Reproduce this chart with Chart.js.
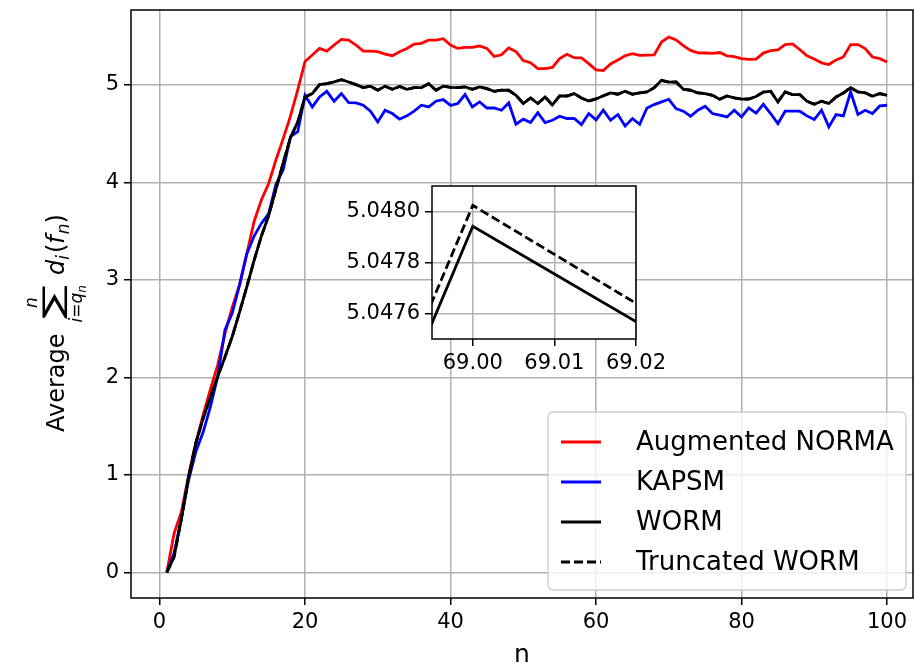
<!DOCTYPE html>
<html>
<head>
<meta charset="utf-8">
<script src="https://cdn.jsdelivr.net/npm/chart.js@4.4.0/dist/chart.umd.min.js"></script>
<style>
html, body { margin: 0; padding: 0; background: #fff; overflow: hidden; }
#wrap { position: relative; width: 914px; height: 668px; }
#main { position: absolute; left: 0; top: 0; }
#inset { position: absolute; left: 330px; top: 176px; }
</style>
</head>
<body>
<div id="wrap">
  <canvas id="main" width="914" height="668"></canvas>
  <canvas id="inset" width="340" height="200"></canvas>
</div>
<script>
// iterations n = 1..100
const steps = [
  1,2,3,4,5,6,7,8,9,10,11,12,13,14,15,16,17,18,19,20,
  21,22,23,24,25,26,27,28,29,30,31,32,33,34,35,36,37,38,39,40,
  41,42,43,44,45,46,47,48,49,50,51,52,53,54,55,56,57,58,59,60,
  61,62,63,64,65,66,67,68,69,70,71,72,73,74,75,76,77,78,79,80,
  81,82,83,84,85,86,87,88,89,90,91,92,93,94,95,96,97,98,99,100
];

const augNorma = [
  0, 0.40, 0.62, 1.00, 1.33, 1.62, 1.88, 2.13, 2.45, 2.72,
  2.95, 3.27, 3.60, 3.82, 3.99, 4.23, 4.45, 4.68, 4.95, 5.24,
  5.307, 5.375, 5.348, 5.41, 5.468, 5.461, 5.41, 5.348, 5.348, 5.341,
  5.317, 5.30, 5.341, 5.375, 5.42, 5.427, 5.461, 5.461, 5.475, 5.41,
  5.375, 5.386, 5.386, 5.40, 5.375, 5.292, 5.31, 5.38, 5.343, 5.25,
  5.229, 5.168, 5.168, 5.18, 5.27, 5.315, 5.28, 5.277, 5.219, 5.155,
  5.148, 5.215, 5.257, 5.30, 5.321, 5.304, 5.306, 5.308, 5.441, 5.492,
  5.462, 5.403, 5.355, 5.33, 5.328, 5.324, 5.333, 5.299, 5.29, 5.271,
  5.262, 5.265, 5.327, 5.352, 5.36, 5.415, 5.422, 5.364, 5.30, 5.267,
  5.227, 5.21, 5.257, 5.287, 5.414, 5.414, 5.373, 5.287, 5.27, 5.236
];

const kapsm = [
  0, 0.20, 0.55, 0.95, 1.24, 1.44, 1.70, 2.01, 2.49, 2.66,
  2.95, 3.27, 3.45, 3.58, 3.68, 3.98, 4.13, 4.47, 4.52, 4.894,
  4.775, 4.877, 4.935, 4.833, 4.912, 4.82, 4.816, 4.792, 4.731, 4.621,
  4.741, 4.707, 4.649, 4.683, 4.731, 4.792, 4.775, 4.833, 4.85, 4.79,
  4.81, 4.902, 4.775, 4.826, 4.764, 4.764, 4.741, 4.816, 4.597, 4.649,
  4.615, 4.717, 4.615, 4.638, 4.679, 4.656, 4.656, 4.594, 4.707, 4.642,
  4.741, 4.638, 4.697, 4.58, 4.656, 4.597, 4.764, 4.799, 4.826, 4.853,
  4.758, 4.731, 4.679, 4.741, 4.782, 4.707, 4.69, 4.672, 4.741, 4.672,
  4.764, 4.712, 4.802, 4.707, 4.604, 4.731, 4.731, 4.731, 4.683, 4.645,
  4.741, 4.57, 4.697, 4.683, 4.928, 4.697, 4.741, 4.707, 4.785, 4.792
];

const worm = [
  0, 0.16, 0.55, 0.98, 1.33, 1.58, 1.80, 2.01, 2.21, 2.42,
  2.67, 2.93, 3.20, 3.45, 3.66, 3.93, 4.20, 4.46, 4.62, 4.877,
  4.912, 5.004, 5.014, 5.031, 5.055, 5.031, 5.004, 4.973, 4.987, 4.946,
  4.987, 4.956, 4.984, 4.956, 4.973, 4.973, 5.014, 4.946, 4.987, 4.975,
  4.973, 4.98, 4.956, 4.98, 4.963, 4.935, 4.946, 4.946, 4.894, 4.81,
  4.867, 4.81, 4.877, 4.795, 4.887, 4.887, 4.912, 4.867, 4.836, 4.857,
  4.89, 4.918, 4.905, 4.935, 4.905, 4.918, 4.928, 4.971944, 5.047944, 5.029244,
  5.031, 4.956, 4.946, 4.918, 4.912, 4.894, 4.853, 4.887, 4.867, 4.855,
  4.856, 4.882, 4.928, 4.935, 4.826, 4.928, 4.902, 4.902, 4.833, 4.802,
  4.833, 4.81, 4.877, 4.918, 4.973, 4.928, 4.92, 4.884, 4.912, 4.894
];

const truncWorm = [
  0, 0.16, 0.55, 0.98, 1.33, 1.58, 1.80, 2.01, 2.21, 2.42,
  2.67, 2.93, 3.20, 3.45, 3.66, 3.93, 4.20, 4.46, 4.62, 4.877,
  4.912, 5.004, 5.014, 5.031, 5.055, 5.031, 5.004, 4.973, 4.987, 4.946,
  4.987, 4.956, 4.984, 4.956, 4.973, 4.973, 5.014, 4.946, 4.987, 4.975,
  4.973, 4.98, 4.956, 4.98, 4.963, 4.935, 4.946, 4.946, 4.894, 4.81,
  4.867, 4.81, 4.877, 4.795, 4.887, 4.887, 4.912, 4.867, 4.836, 4.857,
  4.89, 4.918, 4.905, 4.935, 4.905, 4.918, 4.928, 4.972426, 5.048026, 5.028826,
  5.031, 4.956, 4.946, 4.918, 4.912, 4.894, 4.853, 4.887, 4.867, 4.855,
  4.856, 4.882, 4.928, 4.935, 4.826, 4.928, 4.902, 4.902, 4.833, 4.802,
  4.833, 4.81, 4.877, 4.918, 4.973, 4.928, 4.92, 4.884, 4.912, 4.894
];

const seriesNames = ['Augmented NORMA', 'KAPSM', 'WORM', 'Truncated WORM'];

const xTicks = [0, 20, 40, 60, 80, 100];
const yTicks = [0, 1, 2, 3, 4, 5];
const insetXTicks = [69.00, 69.01, 69.02];
const insetYTicks = [5.0476, 5.0478, 5.0480];

Chart.defaults.font.family = '"DejaVu Sans", sans-serif';
Chart.defaults.color = '#000';

const GRID = '#b0b0b0';

// white face + black frame round the plot area
const framePlugin = {
  id: 'frame',
  beforeDraw(chart) {
    const a = chart.chartArea, ctx = chart.ctx;
    ctx.save();
    ctx.fillStyle = '#fff';
    ctx.fillRect(a.left, a.top, a.right - a.left, a.bottom - a.top);
    ctx.restore();
  },
  afterDatasetsDraw(chart) {
    const a = chart.chartArea, ctx = chart.ctx;
    ctx.save();
    ctx.strokeStyle = '#000';
    ctx.lineWidth = 1.5;
    ctx.strokeRect(a.left, a.top, a.right - a.left, a.bottom - a.top);
    ctx.restore();
  }
};

// legend box in the lower right corner
const boxLegend = {
  id: 'boxLegend',
  afterDraw(chart) {
    const a = chart.chartArea, ctx = chart.ctx;
    const w = 358, h = 178;
    const x0 = a.right - 7 - w, y0 = a.bottom - 8 - h;
    ctx.save();
    ctx.beginPath();
    ctx.roundRect(x0, y0, w, h, 5);
    ctx.fillStyle = 'rgba(255,255,255,0.8)';
    ctx.fill();
    ctx.strokeStyle = '#cccccc';
    ctx.lineWidth = 1.3;
    ctx.stroke();
    ctx.font = '26px "DejaVu Sans"';
    ctx.textBaseline = 'middle';
    chart.data.datasets.forEach((ds, i) => {
      const y = y0 + 30 + i * 40;
      ctx.beginPath();
      ctx.setLineDash(ds.borderDash || []);
      ctx.strokeStyle = ds.borderColor;
      ctx.lineWidth = ds.borderWidth;
      ctx.moveTo(x0 + 13, y);
      ctx.lineTo(x0 + 53, y);
      ctx.stroke();
      ctx.setLineDash([]);
      ctx.fillStyle = '#000';
      ctx.fillText(ds.label, x0 + 88, y + 1);
    });
    ctx.restore();
  }
};

// y axis title with the sum written out
const sumLabel = {
  id: 'sumLabel',
  afterDraw(chart) {
    const ctx = chart.ctx;
    const cy = (chart.chartArea.top + chart.chartArea.bottom) / 2;
    ctx.save();
    ctx.translate(64, cy + 128);
    ctx.rotate(-Math.PI / 2);
    ctx.fillStyle = '#000';
    ctx.textBaseline = 'alphabetic';
    ctx.font = '24px "DejaVu Sans"';
    ctx.fillText('Average', 0, 0);
    // big sum sign fitted to its box
    const sx0 = 113, sw = 33, sTop = -22, sBot = 3;
    ctx.font = '100px "DejaVu Sans"';
    const m = ctx.measureText('\u2211');
    const bw = m.actualBoundingBoxLeft + m.actualBoundingBoxRight;
    const bh = m.actualBoundingBoxAscent + m.actualBoundingBoxDescent;
    const kx = sw / bw, ky = (sBot - sTop) / bh;
    ctx.save();
    ctx.translate(sx0 + m.actualBoundingBoxLeft * kx, sBot - m.actualBoundingBoxDescent * ky);
    ctx.scale(kx, ky);
    ctx.fillText('\u2211', 0, 0);
    ctx.restore();
    const sc = sx0 + sw / 2;
    // upper limit
    ctx.font = 'italic 17px "DejaVu Sans"';
    ctx.textAlign = 'center';
    ctx.fillText('n', sc, -27);
    // lower limit i = q_n
    ctx.textAlign = 'left';
    let u = sc - 20;
    const put = (t, f, dy) => { ctx.font = f; ctx.fillText(t, u, dy); u += ctx.measureText(t).width; };
    put('i', 'italic 17px "DejaVu Sans"', 18);
    put('=', '17px "DejaVu Sans"', 18);
    put('q', 'italic 17px "DejaVu Sans"', 18);
    put('n', 'italic 12px "DejaVu Sans"', 22);
    // d_i(f_n)
    u = 157;
    put('d', 'italic 24px "DejaVu Sans"', 0);
    put('i', 'italic 17px "DejaVu Sans"', 5);
    u += 2;
    put('(', '24px "DejaVu Sans"', 0);
    put('f', 'italic 24px "DejaVu Sans"', 0);
    u += 1;
    put('n', 'italic 17px "DejaVu Sans"', 5);
    put(')', '24px "DejaVu Sans"', 0);
    ctx.restore();
  }
};

const seriesStyle = [
  { data: augNorma, color: '#ff0000', dash: [], order: 4 },
  { data: kapsm, color: '#0000ff', dash: [], order: 3 },
  { data: worm, color: '#000000', dash: [], order: 2 },
  { data: truncWorm, color: '#000000', dash: [9, 4], order: 1 }
];

const mainSets = seriesStyle.map((s, i) => ({
  label: seriesNames[i],
  data: s.data,
  borderColor: s.color,
  backgroundColor: s.color,
  borderDash: s.dash,
  borderWidth: 2.8,
  pointRadius: 0,
  tension: 0,
  order: s.order
}));

// drop the label overhang padding so the plot area sits where the layout says
const noPad = s => { s.paddingTop = 0; s.paddingBottom = 0; s.paddingLeft = 0; s.paddingRight = 0; };

const axisCommon = (ticks, fmt) => ({
  type: 'linear',
  afterBuildTicks: s => { s.ticks = ticks.map(v => ({ value: v })); },
  grid: { color: GRID, lineWidth: 1.5, tickColor: '#000', tickLength: 7, tickWidth: 1.5 },
  border: { display: false },
  ticks: { font: { size: 21 }, color: '#000', padding: 5, maxRotation: 0, callback: fmt, autoSkip: false }
});

new Chart(document.getElementById('main'), {
  type: 'line',
  data: { labels: steps, datasets: mainSets },
  options: {
    responsive: false,
    animation: false,
    layout: { padding: { left: 0, right: 1, top: 10, bottom: 0 } },
    plugins: { legend: { display: false }, tooltip: { enabled: false } },
    scales: {
      x: Object.assign(axisCommon(xTicks, v => String(v)), {
        min: -3.92, max: 103.57,
        afterFit: s => { s.height = 70; noPad(s); },
        title: { display: true, text: 'n', font: { size: 25, lineHeight: 1 }, color: '#000', padding: { top: 0, bottom: 0 } }
      }),
      y: Object.assign(axisCommon(yTicks, v => String(v)), {
        min: -0.262, max: 5.769,
        afterFit: s => { s.width = 131; noPad(s); }
      })
    }
  },
  plugins: [framePlugin, sumLabel, boxLegend]
});

// zoomed inset around n = 69
new Chart(document.getElementById('inset'), {
  type: 'line',
  data: {
    labels: steps,
    datasets: [2, 3].map(i => ({
      label: seriesNames[i],
      data: seriesStyle[i].data,
      borderColor: '#000',
      borderDash: seriesStyle[i].dash,
      borderWidth: 2.8,
      pointRadius: 0,
      tension: 0,
      order: seriesStyle[i].order
    }))
  },
  options: {
    responsive: false,
    animation: false,
    layout: { padding: { left: 0, right: 34, top: 10, bottom: 0 } },
    plugins: { legend: { display: false }, tooltip: { enabled: false } },
    scales: {
      x: Object.assign(axisCommon(insetXTicks, v => v.toFixed(2)), {
        min: 68.995, max: 69.02,
        afterFit: s => { s.height = 37; noPad(s); }
      }),
      y: Object.assign(axisCommon(insetYTicks, v => v.toFixed(4)), {
        min: 5.047502, max: 5.048102,
        afterFit: s => { s.width = 102; noPad(s); }
      })
    }
  },
  plugins: [framePlugin]
});
</script>
</body>
</html>
